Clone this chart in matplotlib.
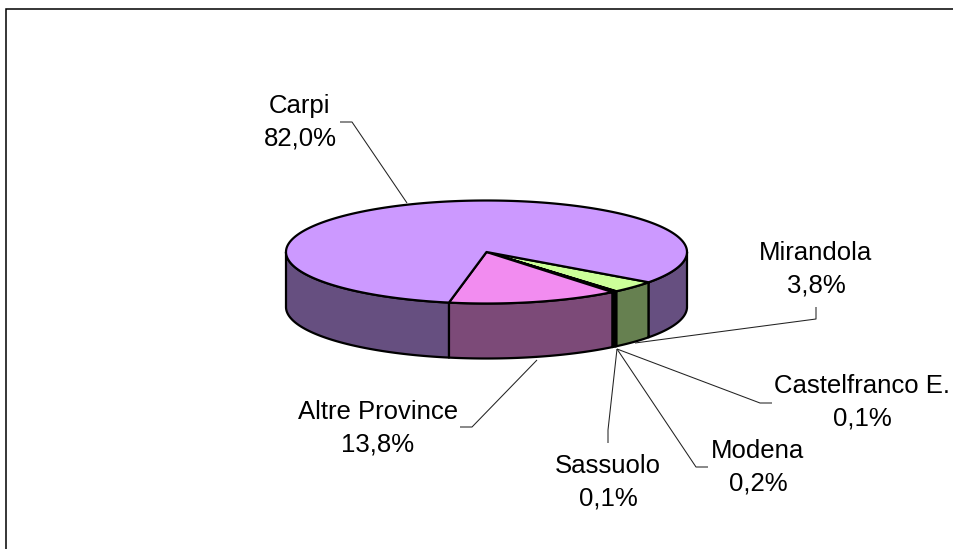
import numpy as np
import matplotlib
matplotlib.use("Agg")
import matplotlib.pyplot as plt
from matplotlib.patches import Polygon

categories = ["Mirandola", "Castelfranco E.", "Modena", "Sassuolo", "Altre Province", "Carpi"]
values = [3.8, 0.1, 0.2, 0.1, 13.8, 82.0]
top_colors = ["#CCFF99", "#FF9900", "#CC3300", "#993366", "#F28CF0", "#CC99FF"]
side_colors = ["#668050", "#804C00", "#661A00", "#4D1A33", "#7C4A78", "#664F80"]

START_DEG = 126.0
CX, CY, RX, RY, DEPTH = 486.5, 252.0, 200.5, 51.5, 55.0
LW = 1.6

label_xy = {
    "Carpi": (300, 122.5),
    "Altre Province": (378, 428),
    "Sassuolo": (608, 482),
    "Modena": (758, 467),
    "Castelfranco E.": (862, 402),
    "Mirandola": (816, 269),
}
leaders = {
    "Carpi": [(407, 203), (352, 122), (340, 122)],
    "Altre Province": [(537, 360), (472, 427), (460, 427)],
    "Sassuolo": [(617, 349), (608, 430), (608, 443)],
    "Modena": [(617, 349), (696, 467), (708, 467)],
    "Castelfranco E.": [(617, 349), (760, 403), (772, 403)],
    "Mirandola": [(635, 343), (816, 319), (816, 307)],
}

fig = plt.figure(figsize=(9.54, 5.49), dpi=100, facecolor="white")
ax = fig.add_axes([0, 0, 1, 1])
ax.set_xlim(0, 954)
ax.set_ylim(549, 0)
ax.axis("off")


def rim(t0, t1, dy=0.0):
    t = np.radians(np.linspace(t0, t1, max(2, int(abs(t1 - t0) * 2) + 2)))
    return np.column_stack([CX + RX * np.sin(t), CY + dy - RY * np.cos(t)])


# slice limits, clockwise from north
edges = START_DEG + np.concatenate([[0], np.cumsum(values)]) * 360.0 / sum(values)
spans = list(zip(edges[:-1], edges[1:]))

# side wall: only the front half (90..270 and again 450..630) is visible
for (a0, a1), side in zip(spans, side_colors):
    for lo, hi in ((90, 270), (450, 630)):
        s0, s1 = max(a0, lo), min(a1, hi)
        if s1 > s0:
            upper = rim(s0, s1)
            lower = rim(s0, s1, DEPTH)[::-1]
            ax.add_patch(Polygon(np.vstack([upper, lower]), closed=True, facecolor=side,
                                 edgecolor="black", lw=LW, joinstyle="round", zorder=2))

# top face
for (a0, a1), top in zip(spans, top_colors):
    pts = np.vstack([[[CX, CY]], rim(a0, a1)])
    ax.add_patch(Polygon(pts, closed=True, facecolor=top, edgecolor="black",
                         lw=LW, joinstyle="round", zorder=3))

# leader lines
for name, pts in leaders.items():
    xs, ys = zip(*pts)
    ax.plot(xs, ys, color="#222222", lw=0.75, zorder=4, solid_capstyle="butt")

# labels
for name, v in zip(categories, values):
    x, y = label_xy[name]
    pct = f"{v:.1f}%".replace(".", ",")
    ax.text(x, y, f"{name}\n{pct}", ha="center", va="center", multialignment="center",
            fontsize=18.5, family="Liberation Sans", color="black", linespacing=1.45, zorder=5)

# frame: only top and left edges fall inside the picture
ax.plot([6, 6, 954], [549, 9, 9], color="black", lw=1.1, zorder=1, solid_joinstyle="miter")

fig.savefig("out.png", dpi=100, facecolor="white")
